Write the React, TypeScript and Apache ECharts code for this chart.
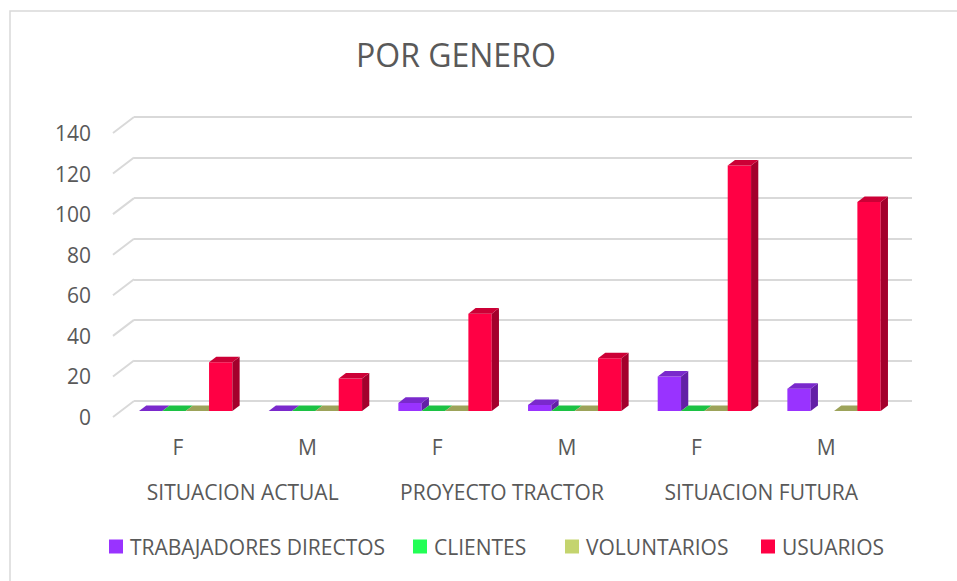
import React, { useEffect, useRef } from "react";
import * as echarts from "echarts";

const subCategories = ["F", "M", "F", "M", "F", "M"];
const groupCategories = ["SITUACION ACTUAL", "PROYECTO TRACTOR", "SITUACION FUTURA"];
const trabajadores: (number | null)[] = [0, 0, 4, 3, 17, 11];
const clientes: (number | null)[] = [0, 0, 0, 0, 0, null];
const voluntarios: (number | null)[] = [0, 0, 0, 0, 0, 0];
const usuarios: (number | null)[] = [24, 16, 48, 26, 121, 103];
const yTicks = [0, 20, 40, 60, 80, 100, 120, 140];

const seriesDefs = [
  { name: "TRABAJADORES DIRECTOS", data: trabajadores, front: "#9933FF", top: "#7A29CC", side: "#6320A6" },
  { name: "CLIENTES", data: clientes, front: "#22FF55", top: "#1CC244", side: "#169E37" },
  { name: "VOLUNTARIOS", data: voluntarios, front: "#C4D46E", top: "#9DA35A", side: "#82894A" },
  { name: "USUARIOS", data: usuarios, front: "#FF0044", top: "#CC0036", side: "#A3002C" },
];
const legendLefts = [109, 413, 565, 761];

const FONT = "'Open Sans', 'Noto Sans', sans-serif";
const TXT = "#595959";
const GRID = "#D9D9D9";
const FS = 21;
const DEPTH_X = 21;
const DEPTH_Y = -16;
const F0 = 0.375;
const F1 = 0.72;

export default function App() {
  const ref = useRef<HTMLDivElement>(null);
  useEffect(() => {
    if (!ref.current) return;
    const chart = echarts.init(ref.current, null, { renderer: "svg" });

    const barSeries = seriesDefs.map((s, si) => ({
      type: "custom",
      name: s.name,
      xAxisIndex: 0,
      yAxisIndex: 0,
      itemStyle: { color: s.front },
      data: s.data.map((v, i) => [i, v == null ? NaN : v]),
      renderItem: (params: any, api: any) => {
        const cat = api.value(0);
        const val = api.value(1);
        if (val == null || isNaN(val)) return null;
        const catW = api.size([1, 0])[0];
        const bw = catW * 0.18;
        const base = api.coord([cat, 0]);
        const topP = api.coord([cat, val]);
        const x0 = base[0] - 2 * bw + si * bw + DEPTH_X * F0;
        const yB = base[1] + DEPTH_Y * F0;
        const yT = topP[1] + DEPTH_Y * F0;
        const ddx = DEPTH_X * (F1 - F0);
        const ddy = DEPTH_Y * (F1 - F0);
        const children: any[] = [];
        if (val > 0) {
          children.push({
            type: "rect",
            shape: { x: x0, y: yT, width: bw, height: yB - yT },
            style: { fill: s.front },
          });
          children.push({
            type: "polygon",
            shape: { points: [[x0 + bw, yT], [x0 + bw + ddx, yT + ddy], [x0 + bw + ddx, yB + ddy], [x0 + bw, yB]] },
            style: { fill: s.side },
          });
        }
        children.push({
          type: "polygon",
          shape: { points: [[x0, yT], [x0 + bw, yT], [x0 + bw + ddx, yT + ddy], [x0 + ddx, yT + ddy]] },
          style: { fill: s.top },
        });
        return { type: "group", children };
      },
    }));

    const option: any = {
      animation: false,
      backgroundColor: "#ffffff",
      textStyle: { fontFamily: FONT },
      title: {
        text: "POR GENERO",
        left: 356,
        top: 38,
        padding: 0,
        textStyle: { fontFamily: FONT, fontSize: 32, fontWeight: "normal", color: TXT },
      },
      graphic: [
        {
          type: "rect",
          z: -10,
          shape: { x: 10, y: 11, width: 980, height: 620 },
          style: { fill: "none", stroke: GRID, lineWidth: 1.5 },
        },
      ],
      legend: seriesDefs.map((s, i) => ({
        left: legendLefts[i],
        top: 536,
        padding: 0,
        icon: "rect",
        itemWidth: 14,
        itemHeight: 14,
        textStyle: { fontFamily: FONT, fontSize: FS, color: TXT, padding: [0, 0, 0, 2] },
        data: [s.name],
      })),
      grid: [
        { left: 113, top: 133, width: 778, height: 284 },
        { left: 134, top: 117, width: 778, height: 284 },
      ],
      xAxis: [
        {
          type: "category",
          gridIndex: 0,
          data: subCategories,
          axisLine: { show: false },
          axisTick: { show: false },
          axisLabel: { fontFamily: FONT, fontSize: FS, color: TXT, margin: 19, interval: 0 },
        },
        {
          type: "category",
          gridIndex: 0,
          position: "bottom",
          offset: 45,
          data: groupCategories,
          axisLine: { show: false },
          axisTick: { show: false },
          axisLabel: { fontFamily: FONT, fontSize: FS, color: TXT, margin: 19, interval: 0 },
        },
        {
          type: "category",
          gridIndex: 1,
          data: subCategories,
          show: false,
        },
      ],
      yAxis: [
        {
          type: "value",
          gridIndex: 0,
          min: 0,
          max: 140,
          interval: 20,
          axisLine: { show: false },
          axisTick: { show: false },
          splitLine: { show: false },
          axisLabel: { fontFamily: FONT, fontSize: FS, color: TXT, margin: 22 },
        },
        {
          type: "value",
          gridIndex: 1,
          min: 0,
          max: 140,
          interval: 20,
          axisLine: { show: false },
          axisTick: { show: false },
          axisLabel: { show: false },
          splitLine: { show: true, lineStyle: { color: GRID, width: 2 } },
        },
      ],
      series: [
        {
          type: "custom",
          name: "gridSlants",
          xAxisIndex: 0,
          yAxisIndex: 0,
          silent: true,
          z: 0,
          data: yTicks.map((t) => [0, t]),
          renderItem: (params: any, api: any) => {
            const y = api.coord([0, api.value(1)])[1];
            const x = params.coordSys.x;
            return {
              type: "line",
              shape: { x1: x, y1: y, x2: x + DEPTH_X, y2: y + DEPTH_Y },
              style: { stroke: GRID, lineWidth: 2 },
            };
          },
        },
        ...barSeries,
      ],
    };
    chart.setOption(option);
    return () => chart.dispose();
  }, []);
  return (
    <div
      ref={ref}
      style={{ position: "absolute", left: 0, top: 0, width: 957, height: 581 }}
    />
  );
}
